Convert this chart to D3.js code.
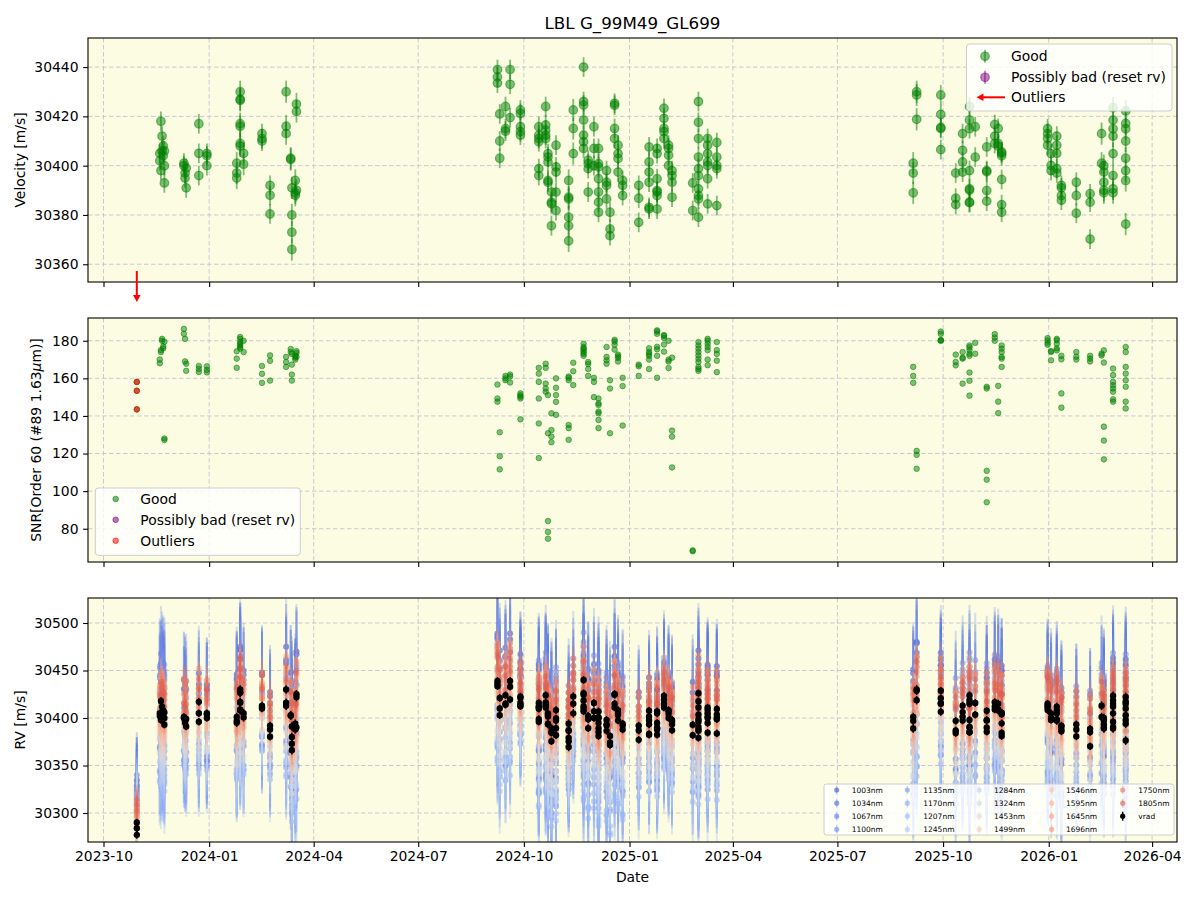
<!DOCTYPE html>
<html><head><meta charset="utf-8">
<script src="https://cdn.jsdelivr.net/npm/d3@7"></script>
<style>body{margin:0;background:#fff;} text{font-family:"DejaVu Sans",sans-serif;}</style>
</head><body><svg id="c" width="1200" height="900"></svg>
<script>
// ---------------- DATA ----------------
const chartTitle = "LBL G_99M49_GL699";
const nightDates = ["2023-10-30","2023-11-19","2023-11-20","2023-11-21","2023-11-22","2023-11-23","2023-12-10","2023-12-11","2023-12-12","2023-12-23","2023-12-30","2024-01-25","2024-01-28","2024-01-31","2024-02-16","2024-02-23","2024-03-08","2024-03-12","2024-03-13","2024-03-16","2024-03-17","2024-09-08","2024-09-10","2024-09-15","2024-09-19","2024-09-28","2024-10-14","2024-10-20","2024-10-22","2024-10-25","2024-10-29","2024-11-09","2024-11-13","2024-11-22","2024-11-26","2024-12-01","2024-12-05","2024-12-12","2024-12-15","2024-12-19","2024-12-22","2024-12-26","2025-01-09","2025-01-18","2025-01-25","2025-01-31","2025-02-04","2025-02-07","2025-02-25","2025-03-02","2025-03-10","2025-03-18","2025-09-05","2025-09-08","2025-09-29","2025-10-12","2025-10-18","2025-10-24","2025-10-29","2025-11-08","2025-11-15","2025-11-18","2025-11-21","2025-12-31","2026-01-03","2026-01-08","2026-01-12","2026-01-25","2026-02-06","2026-02-16","2026-02-18","2026-02-26","2026-03-09"];
const nightVelocity = [
 [30290,30284,30277],[30405,30402],[30418,30398],[30406,30412],[30404,30408],[30400,30393,30406],
 [30401,30400],[30397,30395],[30391,30399],[30417,30405,30396],[30405,30404,30400],
 [30401,30397,30395],[30430,30427,30426.5,30417,30416,30409,30408],[30405,30400.6],
 [30413,30410,30411],[30392,30388,30380.4],[30430,30416,30413],[30403,30402.5],[30391,30380,30373,30366],[30394,30389,30388],[30425,30422,30390],
 [30439,30436,30433.5],[30421,30410,30403],[30424,30415,30414],[30439,30433,30419.5],[30422.6,30421.2,30415.8,30413.8,30412.4],
 [30415.8,30412.4,30411,30409.7,30398.8,30396],[30424,30416.5,30414.4,30412.4,30411],[30404.9,30403.5,30401.5,30394,30393.3],[30389.3,30385.2,30384.5,30375.6],[30408.3,30399.5,30397.4,30389.3,30381.8],
 [30394,30387.2,30386.5,30379.1,30375.6,30369.5],[30422.6,30415.1,30404.9],
 [30440,30426,30424.6,30418.5,30412.4,30409.7,30407],[30402.2,30400.8,30398.8,30389.3],[30415.8,30407,30400],[30407,30400.8,30399.5,30394.7,30389.3,30385.2,30381.1],[30398,30393.3,30392,30386.5],[30381.1,30374.3,30371.6],[30425.3,30424.5,30415.1,30411],[30408.3,30404.9,30402.9,30397.4],[30394,30392,30387.9],
 [30392,30386.8,30377],[30407.6,30401.5,30397.4,30393.3,30383.1,30382.4],[30407,30404.9,30394.7,30389.9,30389.3,30387.9,30382.4],[30423.3,30419.2,30415.1,30413.8,30411],[30408.3,30407,30404.2,30400.1],[30398,30396,30393.3,30387.2],
 [30393,30381.8],[30426,30417.6,30411,30403.5,30398.8,30396,30390.6,30387.9,30386.5,30379.1],[30411,30408.3,30404.9,30401.5,30400.1,30394.7,30384.5],[30409.4,30403.5,30400.1,30398.8,30383.8],
 [30401,30397,30389],[30430,30428.7,30418.8],[30428.7,30420.8,30415.5,30415.1,30406.5],
 [30386.8,30384.2,30397],[30413,30406.2,30401.5,30397.4],[30424,30418.5,30415,30398,30390.6,30390,30385.2,30385],[30415.8,30403.5],
 [30407.6,30398,30397.5,30389.9,30385.6],[30416.7,30412,30409],[30415.1,30409,30408],[30405.6,30405,30404,30394.4,30384.2,30381.1],
 [30415,30413,30411,30408.3],[30404.9,30400.1,30398],[30412,30408.3,30405,30398.8,30397],[30392,30391,30387.9,30386],
 [30393.3,30387.9,30380.7],[30388.6,30385.2,30370.2],
 [30413,30401],[30397.4,30393.3,30390,30389,30400],[30423.5,30418.5,30415,30412,30404.9,30396,30390.6,30389],[30422.2,30417.1,30415,30410,30403,30398,30394,30376.3]
];
const nightSnr = [
 [158.1,153.4,143.5],[168,170],[175,174],[181,180],[177,176],[179.5,128,127.2],
 [186.3,183.7],[181,169],[167.8,164],[166.6,163.4,165],[166.4,163.2,164.5],
 [165.6,170.5,174.4],[182,181,179.3,178.4,177.5,176.7,175.8],[180,174],
 [166.6,162.4,157.6],[172.2,169.3,158.8],[171.4,168.7,166.1],[175.6,174],[173,167.3,162,158.8],[172,171,170],[173.5,174.5,171.5],
 [156.7,149.3,147.6],[131.3,118.6,111.6],[161.3,159,160],[162,157.8,161],[152,150.2,149.3,138.2,151],
 [165.6,162.5,158.1,149.3,136,117.6],[167.8,165.6,157.2,154.6,152.9],[151.1,84.1,78.3,74.7,130.8],[141.4,132.5,129,126],[151.1,147.5,140.6,160,155],
 [160.3,135.2,133.5,127.3,161,159],[168.3,163.8,156.4],
 [178.4,176.6,175.8,175,174,173,172],[168.7,167.6,165,161.3],[160.3,158.1,150],[149.3,146.7,145.8,142.3,141.4,137.9,133.5],[176.7,171.4,169.6,167.8],[159,154.6,130.8],[180.5,179.6,177.9,175.3],[172.6,171.7,170.8,169],[160.3,155.9,134.9],
 [167.3,166.4,161.3],[176,174,173,172,165,170],[185.5,184.9,183.7,176.8,175.5,172,160.3],[182.6,183,181.5,174.2,178],[180,170,169,165.5],[171,132.2,129,112.6],
 [68.5,68],[179.3,177.5,175.8,174,172.2,170.4,168.7,166.1,165,164],[181,180,178.4,176.7,175,170,167],[179.3,175,173,169.4,163.3],
 [166.1,161.3,157.6],[121.4,119.3,111.9],[184.9,183.7,180.2,180,180.4],
 [172.6,168.7,166.9],[174,170.5,157.2,171],[172,177.5,176.5,175,173.1,163.1,158.7,150.8],[178.9,173.1],
 [155.5,154.6,110.8,106.1,94.1],[183.5,181.7,180],[156,147.6,141.5],[177.5,175.8,174,171.4,170.5,166.1],
 [181.4,180.2,178.9,177.9],[174.5,174,169.6],[181,180.2,178.4,176,174.9],[170.1,172,152,144.4],
 [174,170,171.5],[172,169,170.5],
 [173.1,172.2],[134.3,126.9,116.9,174.9,168.4],[165.2,161.7,158.1,156.3,154.6,152.9,148.8,147.6],[176.7,174,166.1,162.5,159,155.5,147.6,144]
];
const outlierNights = ["2023-10-30"];
const runStarts = ["2023-10-01","2023-11-10","2023-12-05","2023-12-18","2024-01-20","2024-02-10","2024-03-05","2024-09-01","2024-09-25","2024-10-10","2024-11-05","2024-11-18","2025-01-05","2025-01-22","2025-02-20","2025-09-01","2025-09-20","2025-10-08","2025-11-05","2025-12-25","2026-01-20","2026-02-12"];
const runVelErr = [4,4,4,4,4.5,4,4.5,4,4,4,4.5,4,4,4,4,4.5,4,4,4,4,4,4.5];
const wavelengths = [1003,1034,1067,1100,1135,1170,1207,1245,1284,1324,1453,1499,1546,1595,1645,1696,1750,1805];
// offset of each wavelength's RV from vrad, per observing run (m/s)
const waveOffsets = [
 [50,40,-35,30,45,-30,45,50,30,-45,25,40,-35,35,45,50,35,-40,45,35,-30,40],
 [45,-35,30,-45,-30,35,-40,-25,45,40,-45,-35,35,-40,-35,-25,40,30,-40,-35,40,-30],
 [40,50,40,30,45,35,45,50,30,45,40,50,35,40,45,50,40,45,50,40,35,45],
 [35,-60,-45,-50,-55,-40,-65,-65,-30,-75,-40,-70,-50,-55,-60,-70,-45,-65,-60,-70,-50,-60],
 [30,25,10,20,35,15,30,40,20,25,10,30,15,20,25,35,20,25,30,20,15,25],
 [30,-70,-50,-55,-60,-45,-75,-80,-40,-90,-50,-95,-60,-65,-70,-80,-55,-75,-65,-80,-60,-70],
 [25,-25,-15,-20,-30,-10,-25,-35,-15,-30,-20,-30,-20,-25,-30,-35,-20,-30,-25,-30,-20,-25],
 [25,-50,-35,-40,-55,-30,-60,-60,-30,-65,-40,-60,-45,-50,-55,-60,-40,-55,-50,-60,-45,-50],
 [20,5,0,10,15,-5,10,15,5,10,0,10,5,0,10,15,5,10,5,10,0,5],
 [20,-40,-30,-35,-45,-25,-45,-50,-25,-55,-35,-50,-35,-40,-45,-50,-30,-45,-40,-50,-35,-45],
 [15,-20,-10,-15,-25,-10,-20,-25,-10,-25,-15,-25,-15,-20,-20,-25,-15,-20,-20,-25,-15,-20],
 [15,-10,-5,-5,-15,0,-10,-10,-5,-15,-5,-10,-5,-10,-10,-15,-5,-10,-10,-15,-5,-10],
 [10,-15,5,-10,-5,10,-15,5,-10,0,5,-15,5,-10,5,-5,10,-15,5,-10,5,-5],
 [12,25,-5,15,30,-5,20,35,0,25,-5,20,10,30,-5,25,5,30,-5,20,25,0],
 [20,-5,25,0,-10,25,-5,5,20,-5,25,-10,20,0,25,-10,20,-5,25,0,-10,20],
 [18,30,5,35,25,10,35,40,5,30,10,35,5,30,10,35,10,30,5,35,10,30],
 [22,5,40,15,0,35,0,15,35,5,40,0,35,10,40,5,35,0,40,5,35,10],
 [25,20,15,25,35,20,25,30,15,20,25,20,15,25,20,30,15,25,20,30,20,25]
];
const waveErr = [45,45,50,45,40,45,38,42,32,35,28,25,20,18,17,16,15,15];
const xTickLabels = ["2023-10","2024-01","2024-04","2024-07","2024-10","2025-01","2025-04","2025-07","2025-10","2026-01","2026-04"];
const velTicks = [30360,30380,30400,30420,30440];
const snrTicks = [80,100,120,140,160,180];
const rvTicks = [30300,30350,30400,30450,30500];

// ---------------- STYLE / LAYOUT ----------------
const W=1200,H=900,L=88,R=1177;
const panels=[{top:38,bottom:282},{top:318,bottom:562},{top:598,bottom:842}];
const BG="#fcfce3", GRID="#c9c9d2", GREEN="#008000", PURPLE="#800080", RED="#ff0000";
const FS=13.9;
const cw = d3.piecewise(d3.interpolateRgb, ["#3b4cc0","#5b7ae5","#7c9ff9","#aac7fd","#dddddd","#f7c2a7","#f4997a","#dd5d4f","#b40426"]);
const waveColors = wavelengths.map((w,i)=>cw(0.03 + 0.84*i/(wavelengths.length-1)));

const parse = d3.utcParse("%Y-%m-%d");
const runDates = runStarts.map(parse);
const obs = [];
nightDates.forEach((d,j)=>{
  const date = parse(d);
  const run = d3.bisectRight(runDates, date) - 1;
  nightVelocity[j].forEach((v,k)=>{
    obs.push({date, vel:v, snr:nightSnr[j][k], run, err:runVelErr[run], outlier: outlierNights.includes(d)});
  });
});

const x = d3.scaleUtc().domain([new Date(Date.UTC(2023,8,17,12)), new Date(Date.UTC(2026,3,22,16))]).range([L,R]);
const y1 = d3.scaleLinear().domain([30352.8,30451.8]).range([panels[0].bottom,panels[0].top]);
const y2 = d3.scaleLinear().domain([62.3,192.1]).range([panels[1].bottom,panels[1].top]);
const y3 = d3.scaleLinear().domain([30269.5,30526.3]).range([panels[2].bottom,panels[2].top]);
const xTicks = xTickLabels.map(s=>parse(s+"-01"));

const svg = d3.select("#c");
svg.append("rect").attr("width",W).attr("height",H).attr("fill","#fff");
const defs = svg.append("defs");
panels.forEach((p,i)=>defs.append("clipPath").attr("id","clip"+i).append("rect")
  .attr("x",L).attr("y",p.top).attr("width",R-L).attr("height",p.bottom-p.top));

svg.append("text").attr("x",(L+R)/2).attr("y",29).attr("text-anchor","middle")
  .attr("font-size",16.7).text(chartTitle);

function frame(i, y, yTicks, showX){
  const p = panels[i];
  const g = svg.append("g");
  g.append("rect").attr("x",L).attr("y",p.top).attr("width",R-L).attr("height",p.bottom-p.top).attr("fill",BG);
  const grid = g.append("g").attr("stroke",GRID).attr("stroke-width",1).attr("stroke-dasharray","4.5,2.5");
  xTicks.forEach(t=>grid.append("line").attr("x1",x(t)).attr("x2",x(t)).attr("y1",p.top).attr("y2",p.bottom));
  yTicks.forEach(t=>grid.append("line").attr("x1",L).attr("x2",R).attr("y1",y(t)).attr("y2",y(t)));
  const data = g.append("g").attr("clip-path",`url(#clip${i})`);
  const ax = svg.append("g");
  const ya = ax.append("g").attr("transform",`translate(${L},0)`)
    .call(d3.axisLeft(y).tickValues(yTicks).tickSize(4.9).tickPadding(4.6).tickFormat(d3.format("d")));
  const xa = ax.append("g").attr("transform",`translate(0,${p.bottom})`)
    .call(d3.axisBottom(x).tickValues(xTicks).tickSize(4.9).tickPadding(4.6).tickFormat(showX? d3.utcFormat("%Y-%m") : ""));
  [ya,xa].forEach(a=>{a.select(".domain").remove(); a.attr("font-family","DejaVu Sans").attr("font-size",FS);
    a.selectAll("line").attr("stroke","#000").attr("stroke-width",1.1); a.selectAll("text").attr("fill","#000");});
  ax.append("rect").attr("x",L).attr("y",p.top).attr("width",R-L).attr("height",p.bottom-p.top)
    .attr("fill","none").attr("stroke","#000").attr("stroke-width",1.1);
  return {data, ax};
}

// ---- Panel 1: velocity ----
const P1 = frame(0, y1, velTicks, false);
const good = obs.filter(o=>!o.outlier);
P1.data.append("g").selectAll("line").data(good).join("line")
  .attr("x1",d=>x(d.date)).attr("x2",d=>x(d.date)).attr("y1",d=>y1(d.vel-d.err)).attr("y2",d=>y1(d.vel+d.err))
  .attr("stroke",GREEN).attr("stroke-opacity",0.5).attr("stroke-width",1.8);
P1.data.append("g").selectAll("circle").data(good).join("circle")
  .attr("cx",d=>x(d.date)).attr("cy",d=>y1(d.vel)).attr("r",4.3)
  .attr("fill",GREEN).attr("fill-opacity",0.5).attr("stroke",GREEN).attr("stroke-opacity",0.5).attr("stroke-width",1.2);
// outlier arrows (below range)
const outDates = Array.from(new Set(obs.filter(o=>o.outlier).map(o=>+o.date))).map(t=>new Date(t));
outDates.forEach(d=>{
  const xx = x(d), yb = panels[0].bottom;
  svg.append("line").attr("x1",xx).attr("x2",xx).attr("y1",yb-11).attr("y2",yb+14).attr("stroke",RED).attr("stroke-width",2);
  svg.append("path").attr("d",`M${xx-3.8},${yb+13}L${xx+3.8},${yb+13}L${xx},${yb+20}Z`).attr("fill",RED);
});
// legend 1
{
  const g = svg.append("g");
  g.append("rect").attr("x",966.5).attr("y",44).attr("width",205.5).attr("height",67).attr("rx",3)
    .attr("fill","#fff").attr("fill-opacity",0.8).attr("stroke","#cccccc");
  [[GREEN,"Good",56.3],[PURPLE,"Possibly bad (reset rv)",77.3]].forEach(([c,t,yy])=>{
    g.append("line").attr("x1",985).attr("x2",985).attr("y1",yy-6.5).attr("y2",yy+6.5).attr("stroke",c).attr("stroke-opacity",0.5).attr("stroke-width",1.8);
    g.append("circle").attr("cx",985).attr("cy",yy).attr("r",4.3).attr("fill",c).attr("fill-opacity",0.5).attr("stroke",c).attr("stroke-opacity",0.5).attr("stroke-width",1.2);
    g.append("text").attr("x",1011).attr("y",yy).attr("dy","0.36em").attr("font-size",FS).text(t);
  });
  g.append("line").attr("x1",1005).attr("x2",982).attr("y1",97.3).attr("y2",97.3).attr("stroke",RED).attr("stroke-width",2);
  g.append("path").attr("d","M976.5,97.3L983.5,93.5L983.5,101.1Z").attr("fill",RED);
  g.append("text").attr("x",1011).attr("y",97.3).attr("dy","0.36em").attr("font-size",FS).text("Outliers");
}
svg.append("text").attr("transform",`translate(25,${(panels[0].top+panels[0].bottom)/2}) rotate(-90)`)
  .attr("text-anchor","middle").attr("font-size",FS).text("Velocity [m/s]");

// ---- Panel 2: SNR ----
const P2 = frame(1, y2, snrTicks, false);
P2.data.append("g").selectAll("circle").data(obs).join("circle")
  .attr("cx",d=>x(d.date)).attr("cy",d=>y2(d.snr)).attr("r",2.8)
  .attr("fill",GREEN).attr("fill-opacity",0.5).attr("stroke",GREEN).attr("stroke-opacity",0.5).attr("stroke-width",1);
P2.data.append("g").selectAll("circle").data(obs.filter(o=>o.outlier)).join("circle")
  .attr("cx",d=>x(d.date)).attr("cy",d=>y2(d.snr)).attr("r",2.8)
  .attr("fill",RED).attr("fill-opacity",0.55).attr("stroke",RED).attr("stroke-opacity",0.55).attr("stroke-width",1);
{
  const g = svg.append("g");
  g.append("rect").attr("x",95.3).attr("y",488).attr("width",205).attr("height",67.3).attr("rx",3)
    .attr("fill","#fff").attr("fill-opacity",0.8).attr("stroke","#cccccc");
  [[GREEN,"Good",499],[PURPLE,"Possibly bad (reset rv)",519.7],[RED,"Outliers",540.7]].forEach(([c,t,yy])=>{
    g.append("circle").attr("cx",115.7).attr("cy",yy).attr("r",2.8).attr("fill",c).attr("fill-opacity",0.55).attr("stroke",c).attr("stroke-opacity",0.55);
    g.append("text").attr("x",140.3).attr("y",yy).attr("dy","0.36em").attr("font-size",FS).text(t);
  });
}
{
  const t = svg.append("text").attr("transform",`translate(41,${(panels[1].top+panels[1].bottom)/2}) rotate(-90)`)
    .attr("text-anchor","middle").attr("font-size",FS);
  t.append("tspan").text("SNR[Order 60 (#89 1.63");
  t.append("tspan").attr("font-style","italic").text("\u03bc");
  t.append("tspan").text("m)]");
}

// ---- Panel 3: RV per wavelength ----
const P3 = frame(2, y3, rvTicks, true);
wavelengths.forEach((w,wi)=>{
  const g = P3.data.append("g");
  const pts = obs.map(o=>({date:o.date, v:o.vel + waveOffsets[wi][o.run], e:waveErr[wi]}));
  g.selectAll("line").data(pts).join("line")
    .attr("x1",d=>x(d.date)).attr("x2",d=>x(d.date)).attr("y1",d=>y3(d.v-d.e)).attr("y2",d=>y3(d.v+d.e))
    .attr("stroke",waveColors[wi]).attr("stroke-opacity",0.25).attr("stroke-width",2);
  g.selectAll("circle").data(pts).join("circle")
    .attr("cx",d=>x(d.date)).attr("cy",d=>y3(d.v)).attr("r",3)
    .attr("fill",waveColors[wi]).attr("fill-opacity",0.45);
});
{
  const g = P3.data.append("g");
  g.selectAll("line").data(obs).join("line")
    .attr("x1",d=>x(d.date)).attr("x2",d=>x(d.date)).attr("y1",d=>y3(d.vel-d.err)).attr("y2",d=>y3(d.vel+d.err))
    .attr("stroke","#000").attr("stroke-width",1.5);
  g.selectAll("circle").data(obs).join("circle")
    .attr("cx",d=>x(d.date)).attr("cy",d=>y3(d.vel)).attr("r",3.2).attr("fill","#000");
}
svg.append("text").attr("transform",`translate(25,${(panels[2].top+panels[2].bottom)/2}) rotate(-90)`)
  .attr("text-anchor","middle").attr("font-size",FS).text("RV [m/s]");
svg.append("text").attr("x",(L+R)/2).attr("y",882).attr("text-anchor","middle").attr("font-size",FS).text("Date");
// legend 3
{
  const g = svg.append("g");
  g.append("rect").attr("x",824).attr("y",784).attr("width",350).attr("height",51).attr("rx",2.5)
    .attr("fill","#fff").attr("fill-opacity",0.8).attr("stroke","#cccccc");
  const colMark=[836.7,907.3,979.3,1051.7,1122.7], colText=[851.7,923.3,994,1066,1138.3], rows=[790,803.2,816.2,829.3];
  const entries = wavelengths.map((w,i)=>({label:w+"nm", color:waveColors[i], op:0.6})).concat([{label:"vrad", color:"#000", op:1}]);
  entries.forEach((e,i)=>{
    const c = Math.floor(i/4), r = i%4;
    g.append("line").attr("x1",colMark[c]).attr("x2",colMark[c]).attr("y1",rows[r]-4.5).attr("y2",rows[r]+4.5)
      .attr("stroke",e.color).attr("stroke-opacity",e.op===1?1:0.35).attr("stroke-width",1.5);
    g.append("circle").attr("cx",colMark[c]).attr("cy",rows[r]).attr("r",2.6).attr("fill",e.color).attr("fill-opacity",e.op);
    g.append("text").attr("x",colText[c]).attr("y",rows[r]).attr("dy","0.36em").attr("font-size",7.5).text(e.label);
  });
}
</script></body></html>
